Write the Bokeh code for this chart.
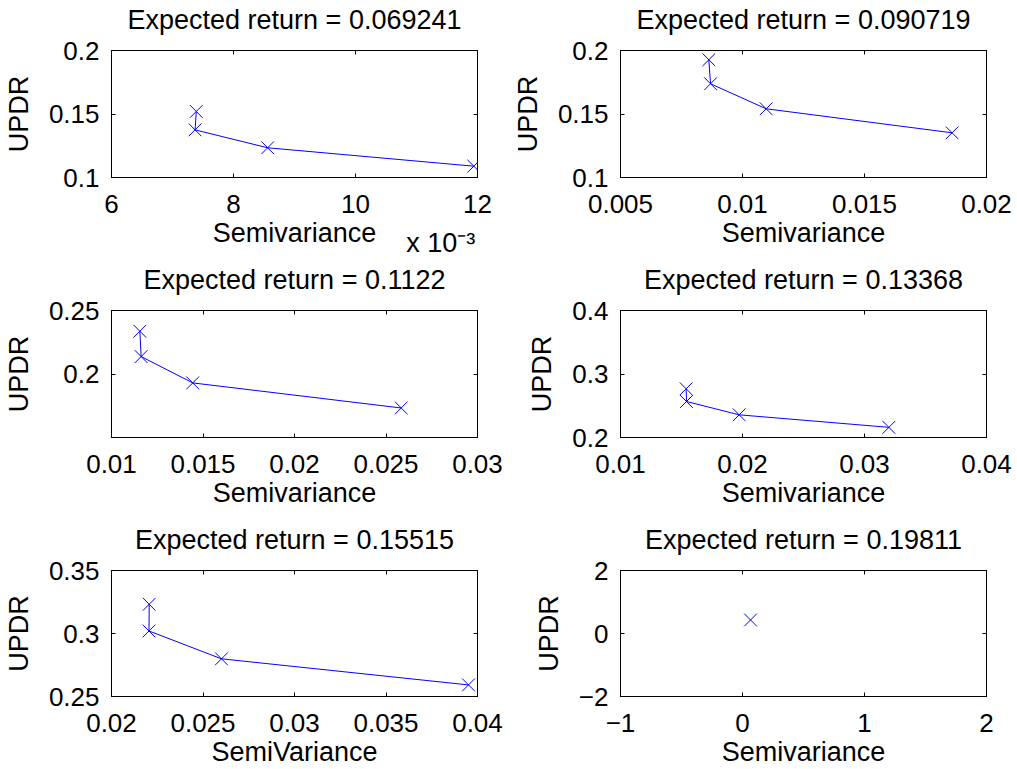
from bokeh.plotting import figure
from bokeh.layouts import gridplot
from bokeh.models import FixedTicker, CustomJSTickFormatter, LinearAxis, Range1d
from bokeh.embed import file_html
from bokeh.resources import INLINE

# Expected return of each efficient-frontier slice
expected_returns = ["0.069241", "0.090719", "0.1122", "0.13368", "0.15515", "0.19811"]

# Semivariance / UPDR pairs for each slice
semivar_1 = [0.00739, 0.00737, 0.00856, 0.01194]
updr_1 = [0.1520, 0.1375, 0.1234, 0.1089]
semivar_2 = [0.00862, 0.00869, 0.01097, 0.01859]
updr_2 = [0.1927, 0.1738, 0.1541, 0.1352]
semivar_3 = [0.01155, 0.01162, 0.01444, 0.02583]
updr_3 = [0.2337, 0.2138, 0.1931, 0.1734]
semivar_4 = [0.01538, 0.01541, 0.01973, 0.03200]
updr_4 = [0.2767, 0.2567, 0.2357, 0.2160]
semivar_5 = [0.02206, 0.02205, 0.02601, 0.03951]
updr_5 = [0.3232, 0.3020, 0.2799, 0.2592]
semivar_6 = [0.066]
updr_6 = [0.43]

semivars = [semivar_1, semivar_2, semivar_3, semivar_4, semivar_5, semivar_6]
updrs = [updr_1, updr_2, updr_3, updr_4, updr_5, updr_6]

x_axis_labels = ["Semivariance", "Semivariance", "Semivariance",
                 "Semivariance", "SemiVariance", "Semivariance"]
y_axis_label = "UPDR"
# the first panel's tick labels are in units of 1e-3
x_multiplier = "x 10\u207b\u00b3"

x_ticks = [
    [0.006, 0.008, 0.010, 0.012],
    [0.005, 0.010, 0.015, 0.020],
    [0.010, 0.015, 0.020, 0.025, 0.030],
    [0.010, 0.020, 0.030, 0.040],
    [0.020, 0.025, 0.030, 0.035, 0.040],
    [-1, 0, 1, 2],
]
y_ticks = [
    [0.10, 0.15, 0.20],
    [0.10, 0.15, 0.20],
    [0.20, 0.25],
    [0.2, 0.3, 0.4],
    [0.25, 0.30, 0.35],
    [-2, 0, 2],
]
x_limits = [(0.006, 0.012), (0.005, 0.020), (0.010, 0.030),
            (0.010, 0.040), (0.020, 0.040), (-1, 2)]
y_limits = [(0.10, 0.20), (0.10, 0.20), (0.1502, 0.25),
            (0.2, 0.4), (0.25, 0.35), (-2, 2)]

FONT = "Liberation Sans"
FS = "27px"
TICK_FS = "26px"
BLUE = "#0000ff"

plain_fmt = CustomJSTickFormatter(code="""
    const s = parseFloat(tick.toFixed(8)).toString();
    return s.replace('-', '\\u2212');
""")
milli_fmt = CustomJSTickFormatter(code="return (tick * 1000).toFixed(0);")
blank_fmt = CustomJSTickFormatter(code="return '';")


def style_ticks(ax):
    ax.major_tick_in = 4
    ax.major_tick_out = 0
    ax.minor_tick_line_color = None
    ax.axis_line_color = "black"
    ax.axis_line_width = 1
    ax.major_tick_line_color = "black"


def style_label(ax, label_standoff):
    ax.axis_label_text_font = FONT
    ax.axis_label_text_font_size = FS
    ax.axis_label_text_font_style = "normal"
    ax.axis_label_text_color = "black"
    ax.axis_label_standoff = label_standoff


def style_tick_labels(ax, standoff):
    ax.major_label_text_font = FONT
    ax.major_label_text_font_size = TICK_FS
    ax.major_label_text_color = "black"
    ax.major_label_standoff = standoff


def hide_tick_labels(ax):
    ax.major_label_text_font_size = "0px"
    ax.major_label_standoff = 0
    ax.formatter = blank_fmt


panels = []
for i in range(6):
    row, col = divmod(i, 2)
    width = 509 if col == 0 else 508
    height = 249 if row == 2 else 260
    p = figure(
        width=width, height=height,
        output_backend="svg", toolbar_location=None, title=None,
        x_range=Range1d(*x_limits[i]), y_range=Range1d(*y_limits[i]),
        min_border_left=111, min_border_right=width - 111 - 366,
        min_border_top=50, min_border_bottom=height - 50 - 127,
        y_axis_label=y_axis_label,
    )
    p.xgrid.visible = False
    p.ygrid.visible = False
    p.outline_line_color = "black"
    p.outline_line_width = 1
    p.border_fill_color = "white"
    p.background_fill_color = "white"

    xt = FixedTicker(ticks=x_ticks[i])
    yt = FixedTicker(ticks=y_ticks[i])

    xax = p.xaxis[0]
    xax.ticker = xt
    xax.formatter = milli_fmt if i == 0 else plain_fmt
    style_ticks(xax)
    style_tick_labels(xax, 17)
    style_label(xax, 2)
    if i == 0:
        # second line carries the axis multiplier, pushed to the right end
        pad = "\u00a0" * 39
        xax.axis_label = x_axis_labels[i] + "\n" + pad + x_multiplier
        xax.axis_label_text_line_height = 0.34
    else:
        xax.axis_label = x_axis_labels[i]

    yax = p.yaxis[0]
    yax.ticker = yt
    yax.formatter = plain_fmt
    style_ticks(yax)
    style_tick_labels(yax, 12)
    style_label(yax, 12)

    # top axis closes the box and carries the panel heading
    top = LinearAxis(ticker=xt, axis_label="Expected return = " + expected_returns[i])
    style_ticks(top)
    hide_tick_labels(top)
    style_label(top, 16)
    p.add_layout(top, "above")

    right = LinearAxis(ticker=yt)
    style_ticks(right)
    hide_tick_labels(right)
    p.add_layout(right, "right")

    p.line(semivars[i], updrs[i], line_color=BLUE, line_width=1)
    p.scatter(semivars[i], updrs[i], marker="x", size=18,
              line_color=BLUE, line_width=1)
    panels.append(p)

grid = gridplot([[panels[0], panels[1]], [panels[2], panels[3]], [panels[4], panels[5]]],
                toolbar_location=None)

open("out.html", "w").write(file_html(grid, INLINE))
